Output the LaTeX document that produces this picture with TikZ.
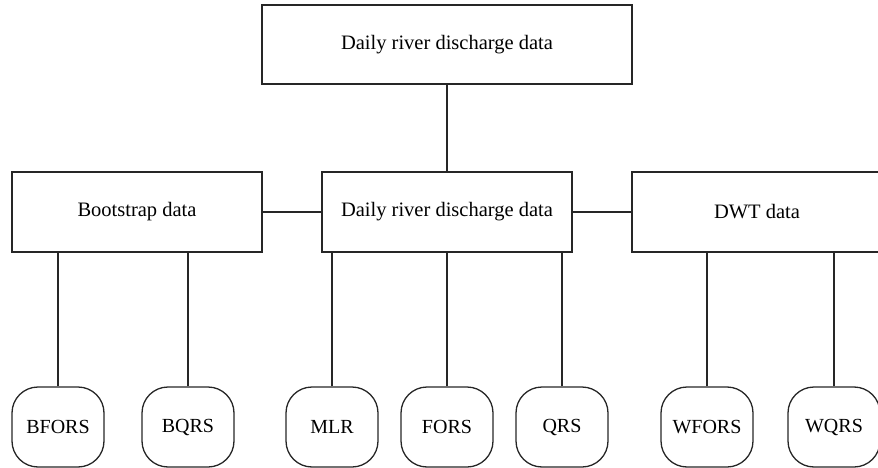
\documentclass[tikz,border=0pt]{standalone}
\usepackage{fontspec}
\setmainfont{Liberation Serif}
\begin{document}
\begin{tikzpicture}[x=1pt,y=-1pt,
  databox/.style={draw=black!85, line width=1.4pt, minimum width=250pt, minimum height=80pt, inner sep=0pt, font=\fontsize{20.5}{23}\selectfont},
  method/.style={draw=black!85, line width=1.3pt, rounded corners=26pt, minimum width=92pt, minimum height=80pt, inner sep=0pt, font=\fontsize{20}{23}\selectfont},
  conn/.style={draw=black!85, line width=1.2pt}]
\useasboundingbox (0,0) rectangle (878,468);
\clip (0,0) rectangle (878,468);
\node[databox, minimum width=370pt, minimum height=79pt] (top) at (447,44.5) {Daily river discharge data};
\node[databox] (boot) at (137,212) {Bootstrap data};
\node[databox] (mid) at (447,212) {Daily river discharge data};
\node[databox] (dwt) at (757,212) {DWT data};
\node[method] (bfors) at (58,427) {BFORS};
\node[method] (bqrs) at (188,427) {BQRS};
\node[method] (mlr) at (332,427) {MLR};
\node[method] (fors) at (447,427) {FORS};
\node[method] (qrs) at (562,427) {QRS};
\node[method] (wfors) at (707,427) {WFORS};
\node[method] (wqrs) at (834,427) {WQRS};
\draw[conn] (top.south) -- (mid.north);
\draw[conn] (boot.east) -- (mid.west);
\draw[conn] (mid.east) -- (dwt.west);
\draw[conn] (bfors.north) -- (bfors.north |- boot.south);
\draw[conn] (bqrs.north) -- (bqrs.north |- boot.south);
\draw[conn] (mlr.north) -- (mlr.north |- mid.south);
\draw[conn] (fors.north) -- (fors.north |- mid.south);
\draw[conn] (qrs.north) -- (qrs.north |- mid.south);
\draw[conn] (wfors.north) -- (wfors.north |- dwt.south);
\draw[conn] (wqrs.north) -- (wqrs.north |- dwt.south);
\end{tikzpicture}
\end{document}
